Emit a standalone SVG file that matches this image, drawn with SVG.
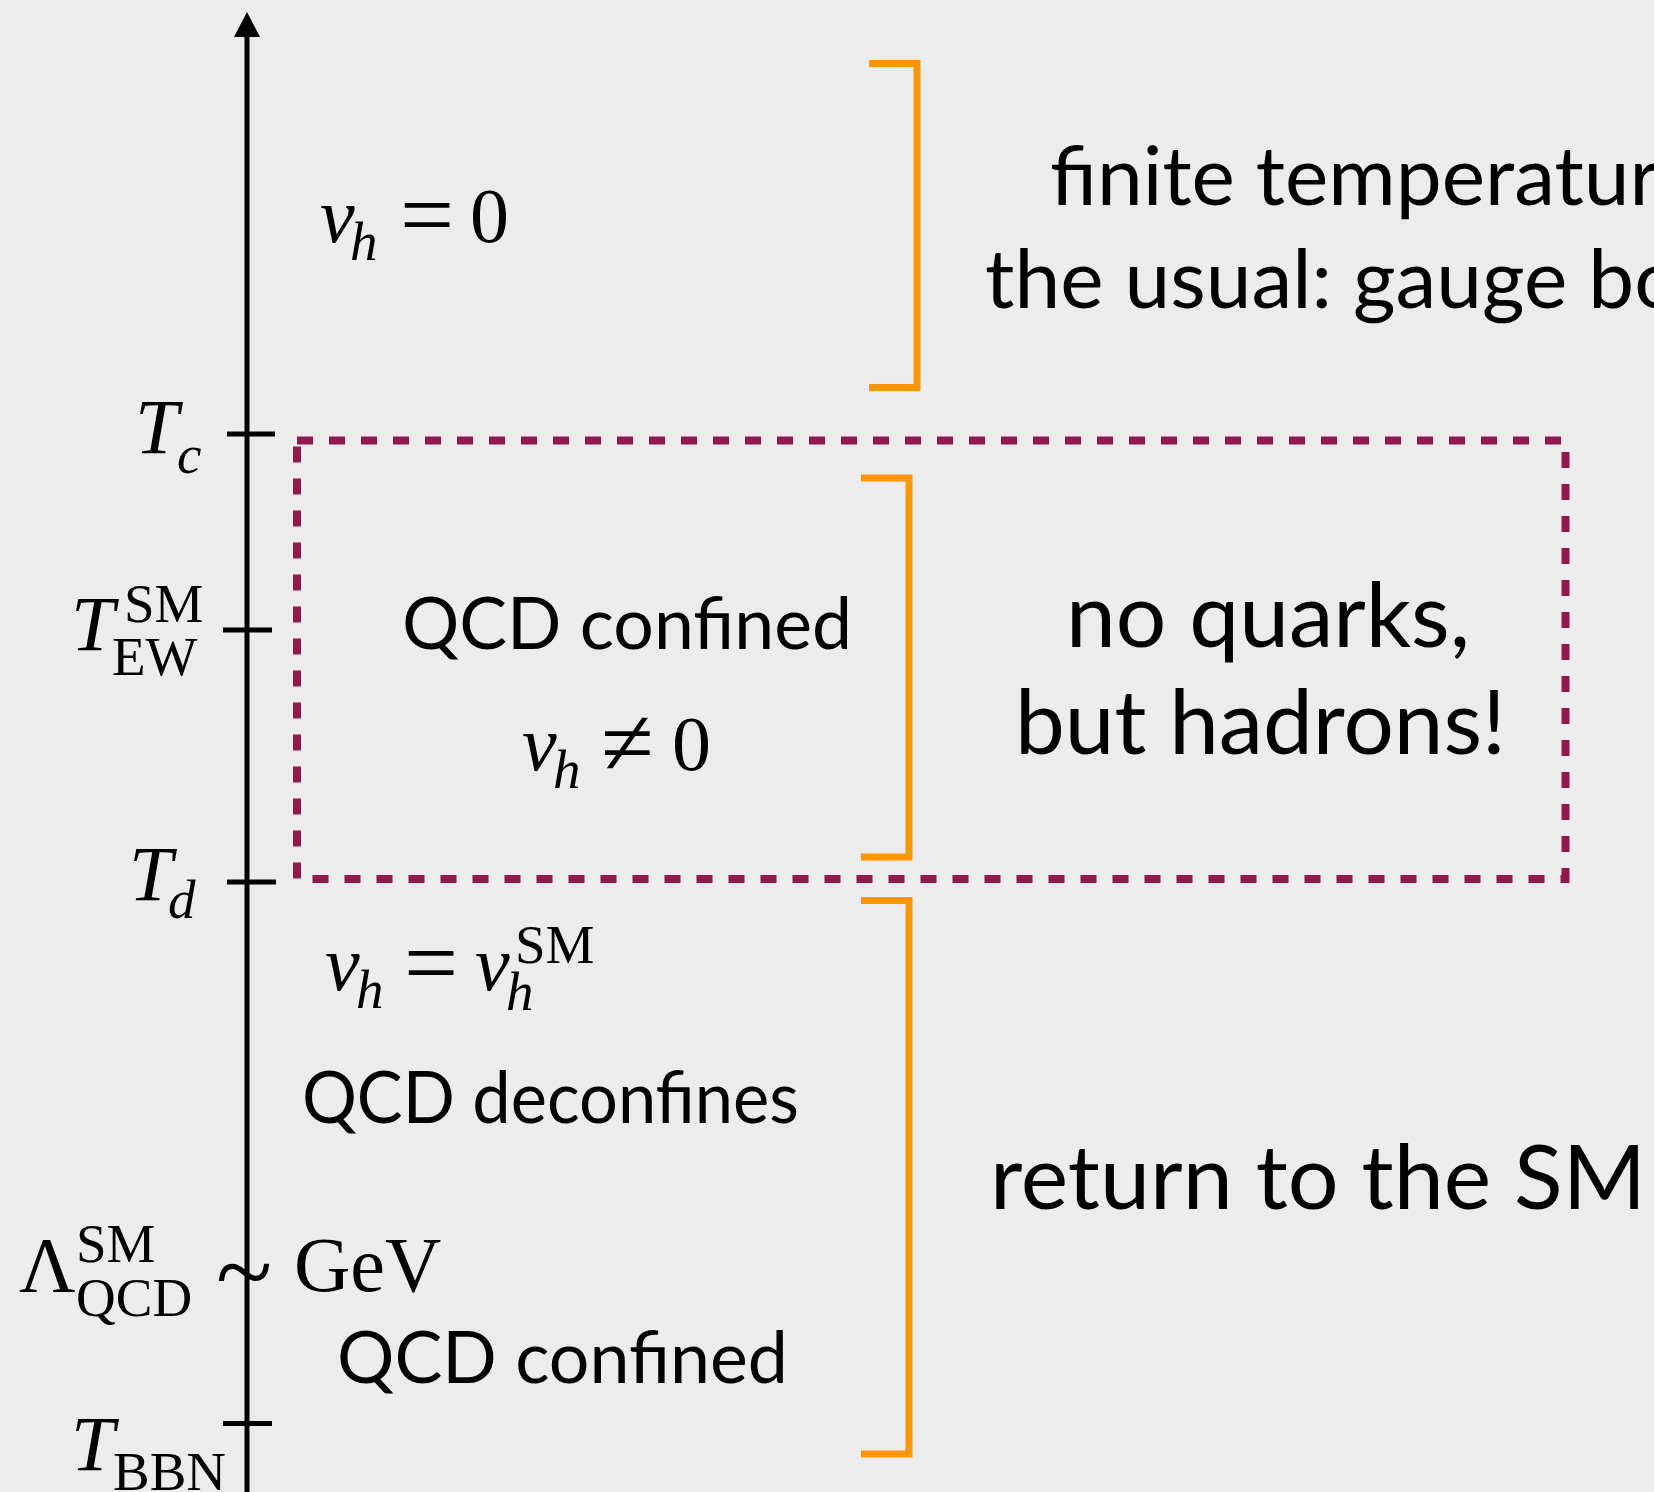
<svg xmlns="http://www.w3.org/2000/svg" width="1654" height="1492" viewBox="0 0 1654 1492">
<style>
.m{font-family:"Liberation Serif","Times New Roman",serif;fill:#000}
.i{font-style:italic}
.big{font-size:78px}
.op{font-size:96px}
.sub{font-size:55px}
.s{font-family:Lato,"Open Sans",sans-serif;fill:#000}
.tick{stroke:#000;stroke-width:5;fill:none}
.br{stroke:#ff9500;stroke-width:7;fill:none;stroke-linejoin:miter}
</style>
<rect x="0" y="0" width="1654" height="1492" fill="#ececec"/>
<g id="connectors">
<line x1="247" y1="34" x2="247" y2="1492" stroke="#000" stroke-width="5"/>
<polygon points="247,12 260,37 234,37" fill="#000"/>
<line class="tick" x1="227" y1="434" x2="275" y2="434"/>
<line class="tick" x1="223" y1="630" x2="272" y2="630"/>
<line class="tick" x1="227" y1="882" x2="276" y2="882"/>
<line class="tick" x1="223" y1="1423.5" x2="272" y2="1423.5"/>
<path class="br" d="M869,63.5 H917 V387.5 H869"/>
<path class="br" d="M861,478 H909 V857 H861"/>
<path class="br" d="M861,900.5 H909 V1454 H861"/>
</g>
<g id="box">
<rect x="297" y="440.5" width="1268.5" height="438.5" fill="none" stroke="#93174f" stroke-width="8" stroke-dasharray="16 16"/>
</g>
<g id="label-Tc">
<text class="m i big" x="135" y="453">T</text>
<text class="m i sub" x="177" y="472.5">c</text>
</g>
<g id="label-TEW">
<text class="m i big" x="71" y="650">T</text>
<text class="m sub" x="124" y="621.5">SM</text>
<text class="m sub" x="112" y="675">EW</text>
</g>
<g id="label-Td">
<text class="m i big" x="129" y="900">T</text>
<text class="m i sub" x="168" y="918">d</text>
</g>
<g id="label-TBBN">
<text class="m i big" x="71" y="1470">T</text>
<text class="m sub" x="113" y="1490">BBN</text>
</g>
<g id="label-Lambda">
<text class="m big" x="19" y="1291">Λ</text>
<text class="m sub" x="76" y="1262">SM</text>
<text class="m sub" x="76" y="1316">QCD</text>
<text class="m" font-size="104" x="216" y="1307">~</text>
<text class="m big" x="294" y="1291">GeV</text>
</g>
<g id="vh-zero">
<text class="m i big" x="320" y="242">v</text>
<text class="m i sub" x="350" y="260">h</text>
<text class="m op" x="400" y="247">=</text>
<text class="m big" x="470" y="242">0</text>
</g>
<g id="region-top-text">
<text class="s" font-size="82" x="1050" y="205">finite temperatur</text>
<text class="s" font-size="82" x="985" y="308">the usual: gauge bo</text>
</g>
<g id="region-middle">
<text class="s" font-size="71" x="402" y="649" textLength="450" lengthAdjust="spacingAndGlyphs">QCD confined</text>
<text class="m i big" x="522" y="770">v</text>
<text class="m i sub" x="553" y="788">h</text>
<text class="m op" x="601" y="775">≠</text>
<text class="m big" x="672" y="770">0</text>
<text class="s" font-size="89" x="1066" y="646.5" textLength="404" lengthAdjust="spacingAndGlyphs">no quarks,</text>
<text class="s" font-size="89" x="1015" y="754" textLength="491" lengthAdjust="spacingAndGlyphs">but hadrons!</text>
</g>
<g id="region-bottom">
<text class="m i big" x="325" y="990">v</text>
<text class="m i sub" x="356" y="1008">h</text>
<text class="m op" x="404" y="995">=</text>
<text class="m i big" x="475" y="990">v</text>
<text class="m i sub" x="506" y="1010">h</text>
<text class="m sub" x="515" y="963">SM</text>
<text class="s" font-size="71" x="302" y="1123" textLength="497" lengthAdjust="spacingAndGlyphs">QCD deconfines</text>
<text class="s" font-size="71" x="337" y="1383" textLength="451" lengthAdjust="spacingAndGlyphs">QCD confined</text>
<text class="s" font-size="90" x="990" y="1208.5" textLength="656" lengthAdjust="spacingAndGlyphs">return to the SM</text>
</g>
</svg>
